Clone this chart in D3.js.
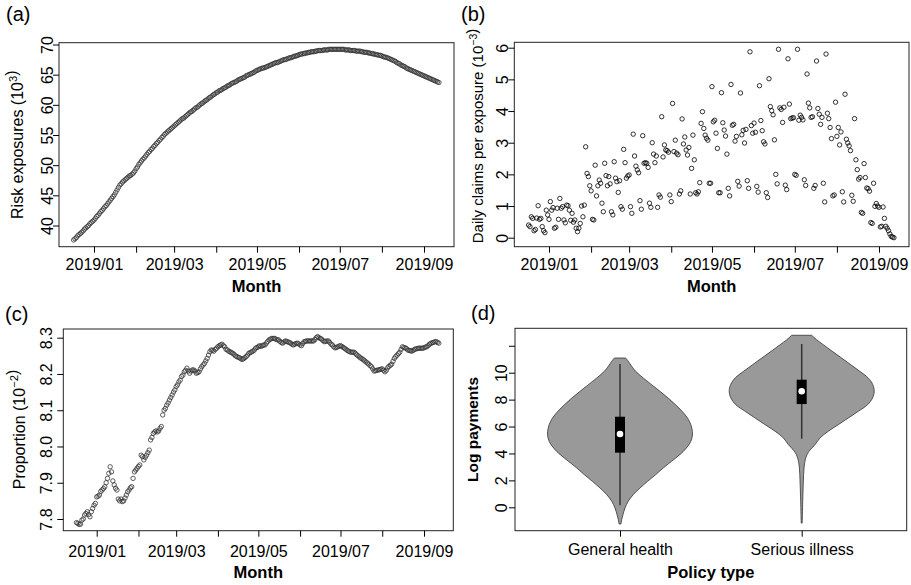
<!DOCTYPE html>
<html><head><meta charset="utf-8">
<script src="https://cdn.jsdelivr.net/npm/d3@7"></script>
<style>body{margin:0;background:#fff}svg{display:block}</style>
</head><body><svg id="c" width="911" height="585"></svg>
<script>
// ---------------- DATA ----------------
const startDate = "2018-12-17"; // first daily observation
const monthTicks = ["2019-01-01","2019-02-01","2019-03-01","2019-04-01","2019-05-01","2019-06-01","2019-07-01","2019-08-01","2019-09-01"];
const monthLabels = ["2019/01","","2019/03","","2019/05","","2019/07","","2019/09"];

// (a) risk exposures (10^3), daily
const riskExposures = [
37.6,37.8,38.0,38.3,38.5,38.7,38.9,39.1,39.4,39.6,
39.8,40.0,40.3,40.5,40.7,40.9,41.2,41.5,41.7,42.0,
42.3,42.5,42.8,43.1,43.3,43.6,43.9,44.2,44.5,44.8,
45.1,45.5,45.9,46.3,46.7,46.9,47.2,47.4,47.6,47.8,
48.0,48.2,48.3,48.5,48.7,49.0,49.4,49.7,50.1,50.4,
50.7,51.0,51.2,51.5,51.8,52.1,52.3,52.6,52.8,53.1,
53.3,53.6,53.8,54.1,54.3,54.6,54.8,55.1,55.3,55.5,
55.7,55.9,56.1,56.3,56.5,56.7,56.9,57.1,57.3,57.5,
57.7,57.8,58.0,58.2,58.4,58.6,58.8,58.9,59.1,59.3,
59.5,59.6,59.8,60.0,60.2,60.3,60.5,60.7,60.8,61.0,
61.2,61.3,61.5,61.7,61.8,62.0,62.1,62.3,62.4,62.5,
62.7,62.8,62.9,63.1,63.2,63.3,63.5,63.6,63.7,63.8,
63.9,64.1,64.2,64.3,64.4,64.5,64.6,64.8,64.9,65.0,
65.1,65.2,65.3,65.4,65.6,65.7,65.8,65.9,66.0,66.1,
66.1,66.2,66.3,66.4,66.5,66.6,66.7,66.8,66.9,67.0,
67.0,67.1,67.2,67.3,67.4,67.5,67.5,67.6,67.7,67.8,
67.8,67.9,68.0,68.1,68.1,68.2,68.3,68.4,68.4,68.5,
68.5,68.6,68.6,68.7,68.7,68.8,68.8,68.8,68.9,68.9,
69.0,69.0,69.0,69.0,69.1,69.1,69.1,69.1,69.2,69.2,
69.2,69.2,69.2,69.2,69.2,69.2,69.2,69.2,69.2,69.2,
69.1,69.1,69.1,69.1,69.0,69.0,69.0,69.0,68.9,68.9,
68.9,68.9,68.8,68.8,68.7,68.7,68.7,68.6,68.6,68.5,
68.5,68.4,68.4,68.3,68.3,68.2,68.2,68.1,68.0,67.9,
67.9,67.8,67.7,67.6,67.5,67.4,67.3,67.2,67.0,66.9,
66.8,66.6,66.5,66.4,66.3,66.1,66.0,65.9,65.8,65.7,
65.6,65.5,65.4,65.3,65.2,65.1,65.0,64.9,64.8,64.7,
64.6,64.5,64.4,64.3,64.2,64.1,64.0,63.9,63.8,63.7];

// (b) daily claims per exposure (10^-3)
const dailyClaims = [
0.40,0.35,0.66,0.61,0.22,0.26,0.62,1.01,0.58,0.61,0.35,0.22,0.16,0.87,0.72,0.58,1.14,0.87,0.95,0.30,
0.33,0.93,0.58,1.24,0.93,0.98,0.56,0.47,1.03,1.01,0.87,0.55,0.77,0.49,0.56,0.30,0.19,0.30,0.45,1.00,
0.66,1.03,
2.87,2.03,1.93,1.64,1.48,0.58,0.56, 2.29,1.32,1.64,1.82,1.72,1.09,0.82, 2.35,1.96,1.64,1.93,1.70,0.82,0.72,
2.40,1.88,1.77,1.43,1.80,0.98,0.90, 2.79,2.37,1.88,1.95,1.98,0.98,0.77, 3.27,2.58,2.26,2.14,2.05,1.17,0.90,
3.22,2.35,2.37,2.35,2.22,1.09,0.96, 3.00,2.64,2.37,2.58,0.96,1.35,1.28, 3.82,2.55,2.93,2.77,2.75,2.70,1.35,1.14,
4.24,2.72,3.08,2.67,2.62,1.38,1.48, 3.75,2.96,3.18,2.77,2.61,2.85,1.38, 2.19,3.24,2.46,1.42,1.38,1.45,1.74,
3.61,3.98,3.45,3.24,3.14,3.08,1.72,1.72,
4.77,3.66,3.71,3.30,2.82,1.42,1.42,
4.58,3.63,3.40,3.21,2.64,1.56,1.32,
4.84,3.55,3.58,3.05,3.20,1.78,1.63,
4.57,3.25,3.39,2.99,3.42,1.80,1.56,
5.87,3.54,3.30,3.62,3.33,1.62,1.44,
4.80,3.70,3.38,3.03,2.96,1.42,1.27,
5.02,4.14,4.01,3.88,3.09,2.00,1.70,
5.95,4.10,4.05,3.64,4.12,1.66,1.52,
5.65,4.22,3.76,3.78,3.79,2.00,1.97,
5.95,3.71,3.87,3.80,3.72,1.83,1.65,
5.17,4.25,4.10,3.80,3.82,1.56,1.65,
5.58,4.08,3.90,3.58,3.80,1.72,1.13,
5.80,3.93,3.76,3.48,3.13,1.32,1.35,
4.28,3.20,3.48,2.93,3.34,1.45,1.13,
4.53,3.11,2.99,2.90,2.75,1.34,1.15,
3.76,2.46,2.15,1.85,1.90,0.80,0.77,
2.34,1.90,1.57,1.55,1.47,0.48,0.45,
1.72,0.99,1.08,1.00,0.96,0.34,0.36,
0.97,0.61,0.36,0.30,0.22,0.12,0.04,
0.02,0.00];

// (c) proportion (10^-2), daily
const proportion = [
7.790,7.788,7.785,7.786,7.797,7.800,7.811,7.815,7.820,7.812,
7.806,7.820,7.829,7.838,7.843,7.861,7.863,7.866,7.876,7.880,
7.884,7.889,7.900,7.912,7.926,7.944,7.930,7.905,7.894,7.885,
7.880,7.855,7.850,7.855,7.848,7.850,7.858,7.866,7.875,7.880,
7.886,7.889,7.912,7.930,7.935,7.940,7.945,7.949,7.976,7.972,
7.963,7.970,7.976,7.983,7.990,8.018,8.025,8.036,8.040,8.043,
8.040,8.043,8.050,8.055,8.087,8.100,8.105,8.114,8.120,8.128,
8.135,8.142,8.150,8.156,8.165,8.170,8.178,8.183,8.193,8.197,
8.206,8.210,8.216,8.208,8.202,8.208,8.211,8.211,8.208,8.202,
8.204,8.206,8.214,8.220,8.225,8.229,8.236,8.243,8.252,8.261,
8.266,8.265,8.263,8.268,8.271,8.275,8.278,8.280,8.282,8.278,
8.275,8.268,8.266,8.263,8.261,8.259,8.257,8.254,8.250,8.248,
8.246,8.245,8.242,8.240,8.242,8.245,8.248,8.252,8.257,8.259,
8.261,8.263,8.266,8.271,8.273,8.275,8.278,8.276,8.278,8.280,
8.280,8.285,8.290,8.294,8.296,8.298,8.298,8.298,8.296,8.294,
8.294,8.290,8.287,8.285,8.288,8.291,8.290,8.288,8.287,8.285,
8.282,8.280,8.282,8.284,8.285,8.283,8.280,8.278,8.284,8.289,
8.290,8.291,8.291,8.291,8.291,8.291,8.291,8.295,8.300,8.303,
8.300,8.298,8.296,8.292,8.289,8.290,8.291,8.291,8.287,8.282,
8.280,8.275,8.272,8.273,8.275,8.277,8.278,8.276,8.273,8.271,
8.268,8.265,8.263,8.261,8.260,8.260,8.260,8.257,8.253,8.250,
8.247,8.244,8.242,8.239,8.236,8.233,8.230,8.227,8.223,8.220,
8.214,8.208,8.209,8.210,8.211,8.212,8.213,8.214,8.210,8.206,
8.210,8.217,8.221,8.224,8.227,8.235,8.243,8.248,8.252,8.256,
8.260,8.268,8.275,8.273,8.272,8.270,8.266,8.265,8.264,8.263,
8.265,8.268,8.269,8.270,8.271,8.271,8.271,8.271,8.272,8.274,
8.275,8.278,8.282,8.284,8.286,8.287,8.289,8.289,8.287,8.285];

// (d) violin plots of log payments
const policyTypes = ["General health","Serious illness"];
const violinGenY = [11.09,10.85,10.47,10.10,9.61,9.11,8.62,8.12,7.62,7.13,6.63,6.14,5.45,4.90,4.41,3.91,3.42,2.92,2.42,1.93,1.43,0.94,0.45,-0.05,-0.55,-0.92,-1.24];
const violinGenD = [0.078,0.114,0.161,0.216,0.320,0.436,0.550,0.664,0.766,0.857,0.931,0.977,1.000,0.977,0.917,0.825,0.711,0.596,0.491,0.381,0.275,0.183,0.114,0.069,0.041,0.023,0.014];
const violinSerY = [12.78,12.45,12.08,11.59,11.09,10.59,10.10,9.61,9.11,8.62,8.12,7.62,7.13,6.63,6.14,5.65,5.15,4.65,4.16,3.66,2.92,1.93,0.45,-1.17];
const violinSerD = [0.138,0.206,0.298,0.422,0.550,0.678,0.802,0.917,0.981,1.000,0.977,0.908,0.780,0.642,0.505,0.367,0.252,0.183,0.100,0.055,0.032,0.023,0.014,0.007];
const whiskerLow  = [0.15, 5.10];
const quartile1   = [4.06, 7.67];
const medians     = [5.45, 8.62];
const quartile3   = [6.73, 9.48];
const whiskerHigh = [10.65, 12.13];

const yTicksA = [40,45,50,55,60,65,70];
const yTicksB = [0,1,2,3,4,5,6];
const yTicksC = [7.8,7.9,8.0,8.1,8.2,8.3];
const yLabelsC = ["7.8","7.9","8.0","8.1","8.2","8.3"];
const yTicksD = [0,2,4,6,8,10,12];
const yLabelsD = ["0","2","4","6","8","10",""];

// ---------------- DRAWING ----------------
const FONT = '"Liberation Sans", Arial, Helvetica, sans-serif';
const svg = d3.select("#c").attr("font-family", FONT);
const parseDay = d3.utcParse("%Y-%m-%d");
const dates = d3.range(riskExposures.length).map(i => d3.utcDay.offset(parseDay(startDate), i));
const monthDates = monthTicks.map(parseDay);

function frame(b){
  svg.append("rect").attr("x",b.x0).attr("y",b.y0).attr("width",b.x1-b.x0).attr("height",b.y1-b.y0)
     .attr("fill","none").attr("stroke","#222").attr("stroke-width",1);
}
function styleAxis(ga){
  ga.select(".domain").remove();
  ga.attr("font-size",16).attr("font-family",FONT);
  ga.selectAll(".tick line").attr("stroke","#000");
  ga.selectAll(".tick text").attr("fill","#000");
}
function xTimeAxis(x, b, labelBase){
  const ax = d3.axisBottom(x).tickValues(monthDates).tickFormat((d,i)=>monthLabels[i]).tickSize(6).tickSizeOuter(0);
  const ga = svg.append("g").attr("transform",`translate(0,${b.y1})`).call(ax);
  styleAxis(ga);
  ga.selectAll(".tick text").attr("y", labelBase).attr("dy", null);
}
function yAxis(y, b, ticks, labels, off){
  const ax = d3.axisLeft(y).tickValues(ticks).tickFormat((d,i)=>labels?labels[i]:String(d)).tickSize(6).tickSizeOuter(0);
  const ga = svg.append("g").attr("transform",`translate(${b.x0},0)`).call(ax);
  styleAxis(ga);
  ga.selectAll(".tick text").attr("x",null).attr("dy",null).attr("text-anchor","middle")
    .attr("transform",`translate(${-off},0) rotate(-90)`);
}
function yTitle(x, yc, parts, size, bold){
  const t = svg.append("text").attr("transform",`translate(${x},${yc}) rotate(-90)`)
    .attr("text-anchor","middle").attr("font-size",size).attr("fill","#000");
  if (bold) t.attr("font-weight","bold");
  parts.forEach(p=>{
    if (p.sup){
      t.append("tspan").attr("dy",-size*0.42).attr("font-size",size*0.7).text(p.sup);
      t.append("tspan").attr("dy",size*0.42).text("");
    } else t.append("tspan").text(p.t);
  });
}
function label(x, y, txt, size, bold, anchor){
  const t = svg.append("text").attr("x",x).attr("y",y).attr("font-size",size).attr("fill","#000")
     .attr("text-anchor",anchor||"start").text(txt);
  if (bold) t.attr("font-weight","bold");
}
function points(vals, x, y, stroke){
  svg.append("g").selectAll("circle").data(vals).join("circle")
    .attr("cx",(d,i)=>x(dates[i])).attr("cy",d=>y(d)).attr("r",2.2)
    .attr("fill","none").attr("stroke",stroke).attr("stroke-width",0.8);
}

// ---- Panel (a)
{
  const b = {x0:59, x1:454, y0:42.7, y1:246.7};
  const x = d3.scaleUtc().domain([monthDates[0], monthDates[8]]).range([94, 424]);
  const y = d3.scaleLinear().domain([40,70]).range([225.5,44.5]);
  points(riskExposures, x, y, "#333");
  frame(b);
  xTimeAxis(x, b, 23);
  yAxis(y, b, yTicksA, null, 6);
  yTitle(23.3, 144.7, [{t:"Risk exposures (10"},{sup:"3"},{t:")"}], 16, false);
  label(256.5, 292, "Month", 16.5, true, "middle");
  label(6, 21, "(a)", 20, false);
}
// ---- Panel (b)
{
  const b = {x0:514.3, x1:909, y0:42.3, y1:246.7};
  const x = d3.scaleUtc().domain([monthDates[0], monthDates[8]]).range([549, 879]);
  const y = d3.scaleLinear().domain([0,6]).range([237.7,47.7]);
  points(dailyClaims, x, y, "#000");
  frame(b);
  xTimeAxis(x, b, 23);
  yAxis(y, b, yTicksB, null, 6);
  yTitle(483, 136, [{t:"Daily claims per exposure (10"},{sup:"\u22123"},{t:")"}], 15, false);
  label(711.7, 292, "Month", 16.5, true, "middle");
  label(461, 21, "(b)", 20, false);
}
// ---- Panel (c)
{
  const b = {x0:63.3, x1:453.3, y0:329, y1:530.7};
  const x = d3.scaleUtc().domain([monthDates[0], monthDates[8]]).range([96.7, 424]);
  const y = d3.scaleLinear().domain([7.8,8.3]).range([519,337.7]);
  points(proportion, x, y, "#333");
  frame(b);
  xTimeAxis(x, b, 26);
  yAxis(y, b, yTicksC, yLabelsC, 11.6);
  yTitle(25, 429.5, [{t:"Proportion (10"},{sup:"\u22122"},{t:")"}], 16, false);
  label(258.3, 578.3, "Month", 16.5, true, "middle");
  label(5, 321, "(c)", 20, false);
}
// ---- Panel (d)
{
  const b = {x0:515, x1:906.7, y0:328.3, y1:530.7};
  const x = d3.scaleLinear().domain([1,2]).range([620, 801.7]);
  const y = d3.scaleLinear().domain([0,10]).range([507.3,372.7]);
  const w = d3.scaleLinear().domain([0,1]).range([0,72.5]);
  const profiles = [d3.zip(violinGenY, violinGenD), d3.zip(violinSerY, violinSerD)];
  profiles.forEach((prof, i)=>{
    const cx = x(i+1);
    const area = d3.area().curve(d3.curveCatmullRom.alpha(0.5))
      .y(d=>y(d[0])).x0(d=>cx - w(d[1])).x1(d=>cx + w(d[1]));
    svg.append("path").attr("d", area(prof)).attr("fill","#999999").attr("stroke","#333").attr("stroke-width",0.8);
    svg.append("line").attr("x1",cx).attr("x2",cx).attr("y1",y(whiskerLow[i])).attr("y2",y(whiskerHigh[i]))
      .attr("stroke","#333").attr("stroke-width",1.5);
    svg.append("rect").attr("x",cx-5).attr("width",10).attr("y",y(quartile3[i])).attr("height",y(quartile1[i])-y(quartile3[i])).attr("fill","#000");
    svg.append("circle").attr("cx",cx).attr("cy",y(medians[i])).attr("r",3.3).attr("fill","#fff");
  });
  frame(b);
  const ax = d3.axisBottom(x).tickValues([1,2]).tickFormat((d,i)=>policyTypes[i]).tickSize(6).tickSizeOuter(0);
  const ga = svg.append("g").attr("transform",`translate(0,${b.y1})`).call(ax);
  styleAxis(ga);
  ga.selectAll(".tick text").attr("y", 24.3).attr("dy", null);
  yAxis(y, b, yTicksD, yLabelsD, 8.3);
  yTitle(478.3, 429.5, [{t:"Log payments"}], 15.5, true);
  label(710.8, 578.3, "Policy type", 16.5, true, "middle");
  label(471, 319.5, "(d)", 20, false);
}
</script></body></html>
